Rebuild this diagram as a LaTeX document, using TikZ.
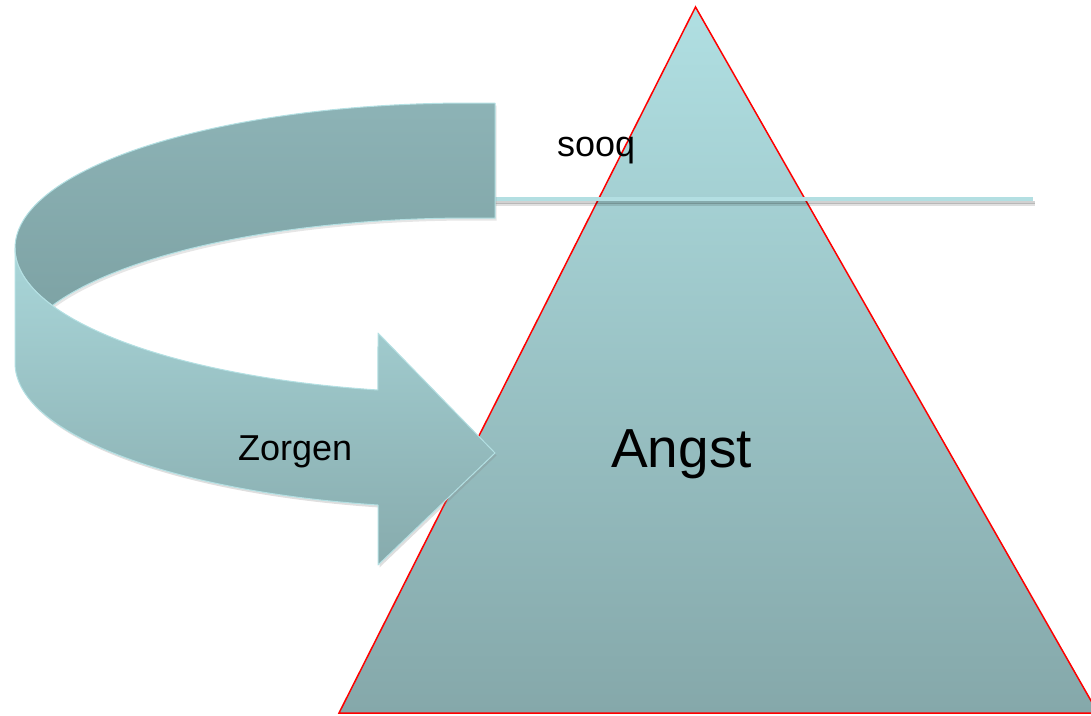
\documentclass[tikz,border=0pt]{standalone}
\usepackage{fontspec}
\setmainfont{Liberation Sans}
\usetikzlibrary{shadows}
\definecolor{triTop}{HTML}{B0DFE2}
\definecolor{triBot}{HTML}{85A8AA}
\definecolor{backTop}{HTML}{8DB3B6}
\definecolor{backBot}{HTML}{7EA3A5}
\definecolor{frontTop}{HTML}{A9D6D9}
\definecolor{frontBot}{HTML}{87ABAD}
\definecolor{edgeC}{HTML}{B4E0E3}
\definecolor{lineC}{HTML}{B3DFE2}
\tikzset{
  ribbon/.style={draw=edgeC, line width=1pt, line join=round},
  label36/.style={anchor=base west, inner sep=0pt, font=\fontsize{36}{40}\selectfont},
  label55/.style={anchor=base west, inner sep=0pt, font=\fontsize{55}{60}\selectfont},
}
\begin{document}
\begin{tikzpicture}[x=1pt,y=1pt]
\useasboundingbox (0,0) rectangle (1091,-715);
\clip (0,0) rectangle (1091,-715);
% pyramid
\coordinate (apex) at (695.5,-7);
\coordinate (bl) at (339,-713);
\coordinate (br) at (1098,-713);
\path[draw=red, line width=1.5pt, line join=miter, top color=triTop, bottom color=triBot]
  (apex) -- (br) -- (bl) -- cycle;
% water line with soft shadow
\coordinate (lineA) at (495,-199);
\coordinate (lineB) at (1033,-199);
\draw[line width=3pt, black, opacity=0.12] ([yshift=-5pt]lineA) -- ([xshift=2pt,yshift=-5pt]lineB);
\draw[line width=3pt, black, opacity=0.18] ([yshift=-3.5pt]lineA) -- ([xshift=2pt,yshift=-3.5pt]lineB);
\draw[line width=4.5pt, lineC] (lineA) -- (lineB);
% back part of the ribbon
\path[ribbon, top color=backTop, bottom color=backBot,
      drop shadow={opacity=0.2, shadow xshift=1.5pt, shadow yshift=-2.5pt}]
  (495,-103.22) arc[start angle=86.85, end angle=203.37, x radius=455, y radius=145]
  arc[start angle=156.63, end angle=86.85, x radius=455, y radius=145] -- cycle;
% front part of the ribbon with arrow head
\path[ribbon, top color=frontTop, bottom color=frontBot,
      drop shadow={opacity=0.25, shadow xshift=1.5pt, shadow yshift=-2.5pt}]
  (15,-248) arc[start angle=180, end angle=258.33, x radius=455, y radius=145]
  -- (378,-333) -- (495,-453) -- (378,-565) -- (378,-505)
  arc[start angle=258.33, end angle=180, x radius=455, y radius=145] -- cycle;
% labels
\node[label36] (boos) at (557,-156) {sooq};
\node[label36] (zorgen) at (238,-460) {Zorgen};
\node[label55] (angst) at (611,-467) {Angst};
\end{tikzpicture}
\end{document}
